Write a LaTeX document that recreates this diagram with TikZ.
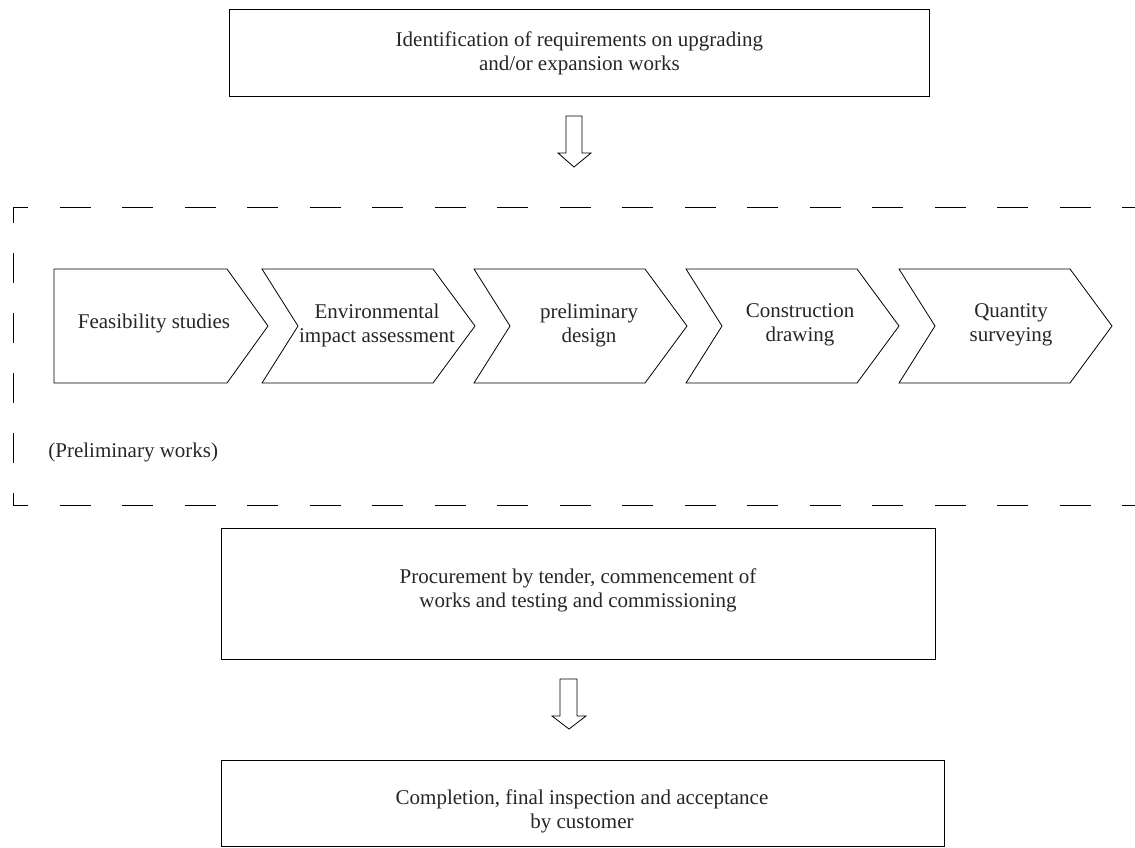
\documentclass[tikz,border=0pt]{standalone}
\usepackage{fontspec}
\setmainfont{Liberation Serif}
\begin{document}
\begin{tikzpicture}[x=1pt,y=-1pt,line width=0.8pt,
  txt/.style={font=\fontsize{21}{24}\selectfont,align=center,inner sep=0pt,text=black!85},
  boxx/.style={draw,txt},
  hdash/.style={line width=0.9pt,dash pattern=on 31pt off 31.5pt},
  vdash/.style={line width=0.9pt,dash pattern=on 30pt off 30pt}]
\useasboundingbox (0,0) rectangle (1135,847);
% top box
\node[boxx,minimum width=700pt,minimum height=87pt,anchor=north west] (req) at (229,9) {};
\node[txt] (reqt) at (req.center) {Identification of requirements on upgrading\\and/or expansion works};
% arrow 1
\draw (566,116) -- (582,116) -- (582,153) -- (591,153) -- (574,167) -- (558,153) -- (566,153) -- cycle;
% dashed frame
\draw[hdash,dash phase=16pt] (13,207) -- (1135,207);
\draw[vdash,dash phase=14pt] (13,207) -- (13,505);
\draw[hdash,dash phase=16pt] (13,505) -- (1135,505);
% chevrons
\draw (54,269) -- (227,269) -- (268,326) -- (227,383) -- (54,383) -- cycle;
\foreach \x in {262,474,686,899}{
  \draw (\x,269) -- (\x+171,269) -- (\x+213,326) -- (\x+171,383) -- (\x,383) -- (\x+36,326) -- cycle;
}
\node[txt] (c1) at (154,323) {Feasibility studies};
\node[txt] (c2) at (377,325) {Environmental\\impact assessment};
\node[txt] (c3) at (589,325) {preliminary\\design};
\node[txt] (c4) at (800,325) {Construction\\drawing};
\node[txt] (c5) at (1011,325) {Quantity\\surveying};
\node[txt,anchor=west] (pw) at (48,452) {(Preliminary works)};
% procurement box
\node[boxx,minimum width=714pt,minimum height=131pt,anchor=north west] (proc) at (221,528) {};
\node[txt] (proct) at (578,590) {Procurement by tender, commencement of\\works and testing and commissioning};
% arrow 2
\draw (560,679) -- (577,679) -- (577,716) -- (586,716) -- (569,729) -- (552,716) -- (560,716) -- cycle;
% completion box
\node[boxx,minimum width=723pt,minimum height=86pt,anchor=north west] (comp) at (221,760) {};
\node[txt] (compt) at (582,811) {Completion, final inspection and acceptance\\by customer};
\end{tikzpicture}
\end{document}
